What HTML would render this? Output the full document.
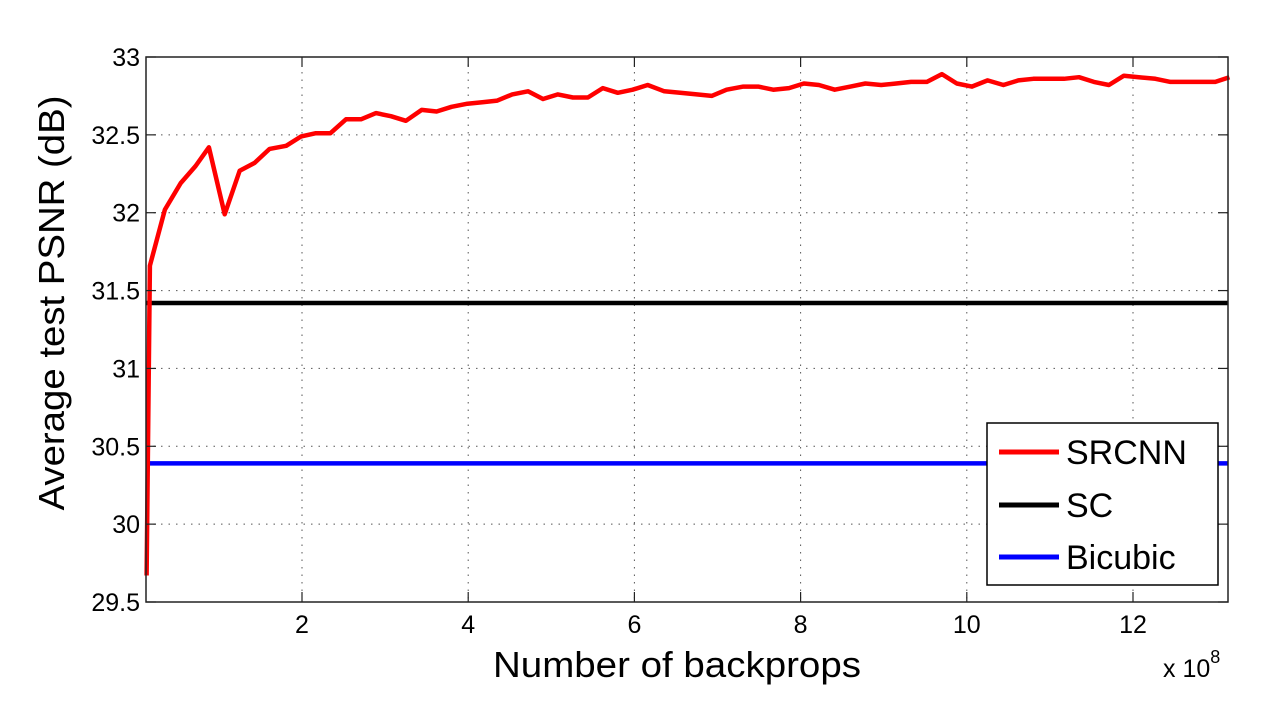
<!DOCTYPE html>
<html><head><meta charset="utf-8"><style>
body{margin:0;background:#fff;}
svg{display:block;font-family:"Liberation Sans",Arial,sans-serif;}
</style></head><body>
<svg id="chart" width="1288" height="704" viewBox="0 0 1288 704">
<rect width="1288" height="704" fill="#fff"/>
<g id="grid"></g>
<g id="series"></g>
<g id="axes"></g>
<text transform="translate(64,303) rotate(-90)" text-anchor="middle" font-size="36" textLength="415" lengthAdjust="spacingAndGlyphs">Average test PSNR (dB)</text>
<text x="677" y="677" text-anchor="middle" font-size="36" textLength="368" lengthAdjust="spacingAndGlyphs">Number of backprops</text>
<text x="1163" y="677" font-size="25">x 10<tspan dy="-14" font-size="18">8</tspan></text>
<g>
<rect x="987" y="423" width="231" height="162" fill="#fff" stroke="#000" stroke-width="1.5"/>
<line x1="999" y1="452" x2="1059" y2="452" stroke="#f00" stroke-width="5"/>
<text x="1066" y="464" font-size="34">SRCNN</text>
<line x1="999" y1="505" x2="1059" y2="505" stroke="#000" stroke-width="5"/>
<text x="1066" y="517" font-size="34">SC</text>
<line x1="999" y1="557" x2="1059" y2="557" stroke="#00f" stroke-width="5"/>
<text x="1066" y="569" font-size="34">Bicubic</text>
</g>
</svg>
<script>
const xVals=[0.13,0.17,0.35,0.54,0.72,0.88,1.07,1.25,1.43,1.61,1.81,1.99,2.16,2.34,2.53,2.71,2.89,3.07,3.25,3.44,3.62,3.80,3.99,4.17,4.35,4.53,4.72,4.90,5.08,5.26,5.44,5.62,5.80,5.98,6.16,6.36,6.55,6.75,6.93,7.11,7.31,7.49,7.67,7.86,8.04,8.22,8.41,8.60,8.78,8.97,9.15,9.33,9.52,9.70,9.88,10.06,10.25,10.44,10.62,10.80,10.98,11.17,11.35,11.53,11.71,11.89,12.07,12.27,12.45,12.63,12.81,12.99,13.16];
const srcnn=[29.67,31.66,32.02,32.19,32.30,32.42,31.99,32.27,32.32,32.41,32.43,32.49,32.51,32.51,32.60,32.60,32.64,32.62,32.59,32.66,32.65,32.68,32.70,32.71,32.72,32.76,32.78,32.73,32.76,32.74,32.74,32.80,32.77,32.79,32.82,32.78,32.77,32.76,32.75,32.79,32.81,32.81,32.79,32.80,32.83,32.82,32.79,32.81,32.83,32.82,32.83,32.84,32.84,32.89,32.83,32.81,32.85,32.82,32.85,32.86,32.86,32.86,32.87,32.84,32.82,32.88,32.87,32.86,32.84,32.84,32.84,32.84,32.87];
const scValue=31.42;
const bicubicValue=30.39;
const xTicks=[2,4,6,8,10,12];
const yTicks=[29.5,30,30.5,31,31.5,32,32.5,33];
const yTickLabels=["29.5","30","30.5","31","31.5","32","32.5","33"];
const L=146,R=1228,T=57,B=602,X0=135.8,XS=83.1;
const sx=v=>X0+v*XS;
const sy=v=>T+(33-v)*(B-T)/3.5;
const NS="http://www.w3.org/2000/svg";
function mk(tag,attrs,parent){const e=document.createElementNS(NS,tag);for(const k in attrs)e.setAttribute(k,attrs[k]);parent.appendChild(e);return e;}
const grid=document.getElementById('grid'),axes=document.getElementById('axes'),ser=document.getElementById('series');
xTicks.forEach(t=>{const x=sx(t);
 const g=mk('line',{x1:x,y1:T,x2:x,y2:B,stroke:'#555','stroke-width':1,'stroke-dasharray':'1.5,6'},grid);
 
 
 mk('line',{x1:x,y1:B,x2:x,y2:B-10,stroke:'#222','stroke-width':1.2},axes);
 mk('line',{x1:x,y1:T,x2:x,y2:T+10,stroke:'#222','stroke-width':1.2},axes);
 const tx=mk('text',{x:x,y:633,'text-anchor':'middle','font-size':25},axes);tx.textContent=t;
 
 
});
yTicks.forEach((t,i)=>{const y=sy(t);
 if(i>0&&i<yTicks.length-1){const g=mk('line',{x1:L,y1:y,x2:R,y2:y,stroke:'#555','stroke-width':1,'stroke-dasharray':'1.5,6'},grid);
 
 }
 mk('line',{x1:L,y1:y,x2:L+10,y2:y,stroke:'#222','stroke-width':1.2},axes);
 mk('line',{x1:R,y1:y,x2:R-10,y2:y,stroke:'#222','stroke-width':1.2},axes);
 const tx=mk('text',{x:L-6,y:y+9,'text-anchor':'end','font-size':25},axes);tx.textContent=yTickLabels[i];
 
 
});
const box=mk('rect',{x:L,y:T,width:R-L,height:B-T,fill:'none',stroke:'#222','stroke-width':1.5},axes);


const sc=mk('line',{x1:L,y1:sy(scValue),x2:R,y2:sy(scValue),stroke:'#000','stroke-width':4.5},ser);


const bi=mk('line',{x1:L,y1:sy(bicubicValue),x2:R,y2:sy(bicubicValue),stroke:'#00f','stroke-width':4.5},ser);


const pts=xVals.map((x,i)=>sx(x).toFixed(1)+','+sy(srcnn[i]).toFixed(1)).join(' ');
const pl=mk('polyline',{points:pts,fill:'none',stroke:'#f00','stroke-width':4.5,'stroke-linejoin':'round'},ser);


</script>
</body></html>
